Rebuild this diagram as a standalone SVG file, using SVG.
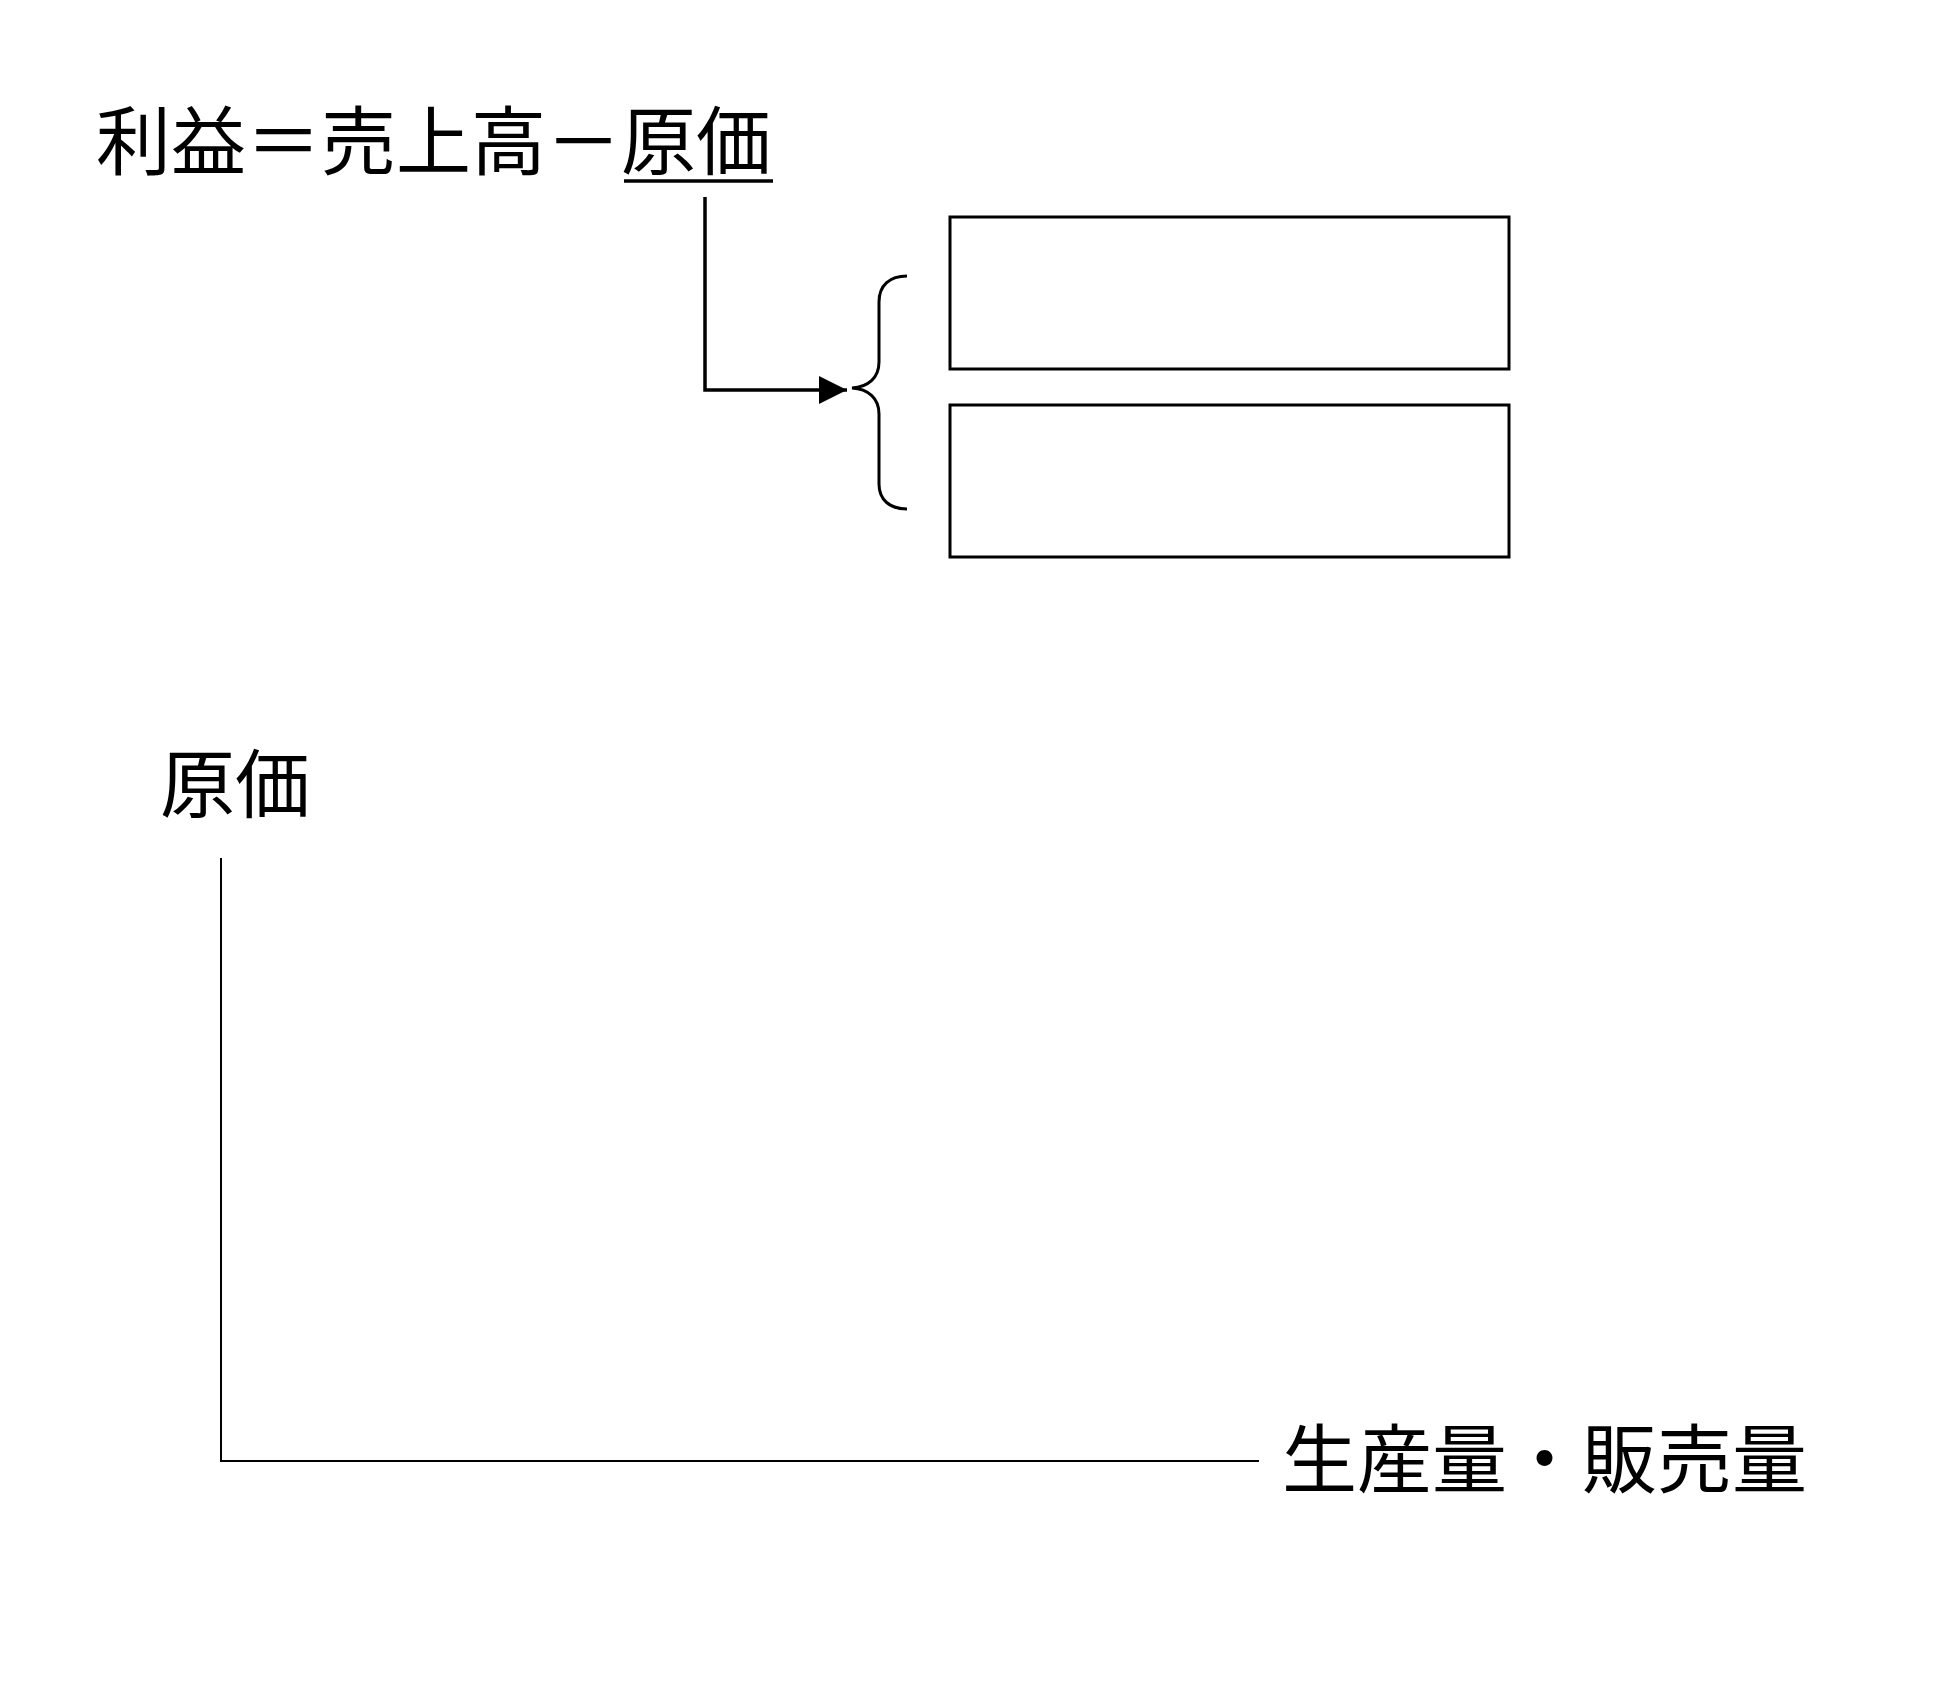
<svg xmlns="http://www.w3.org/2000/svg" width="1949" height="1687" viewBox="0 0 1949 1687">
<style>
.t{font-family:"Noto Sans CJK JP","Noto Sans CJK SC",sans-serif;font-size:75px;font-weight:400;fill:#000}
.box{fill:#fff;stroke:#000;stroke-width:3}
.ln{fill:none;stroke:#000}
</style>
<defs>
<marker id="ah" viewBox="0 0 10 10" refX="10" refY="5" markerWidth="8" markerHeight="8" markerUnits="strokeWidth" orient="auto">
<path d="M0,0 L10,5 L0,10 Z" fill="#000"/>
</marker>
</defs>
<rect width="1949" height="1687" fill="#fff"/>
<g id="formula">
<text class="t" x="96" y="169">利益＝売上高－原価</text>
<line class="ln" x1="624" y1="181" x2="773" y2="181" stroke-width="3.5"/>
</g>
<g id="box1"><rect class="box" x="950" y="217" width="559" height="152"/></g>
<g id="box2"><rect class="box" x="950" y="405" width="559" height="152"/></g>
<g id="brace">
<path class="ln" stroke-width="3" d="M907,276 C890,276 879,285 879,302 L879,362 C879,378 868,387 852,388 C868,389 879,398 879,414 L879,484 C879,500 890,509 907,509"/>
</g>
<g id="y-label"><text class="t" x="160" y="812">原価</text></g>
<g id="x-label"><text class="t" x="1282" y="1487">生産量・販売量</text></g>
<g id="connectors">
<path class="ln" stroke-width="3.5" d="M705,197 L705,390 L847,390" marker-end="url(#ah)"/>
<path class="ln" stroke-width="2" d="M221,858 L221,1461 L1259,1461"/>
</g>
</svg>
